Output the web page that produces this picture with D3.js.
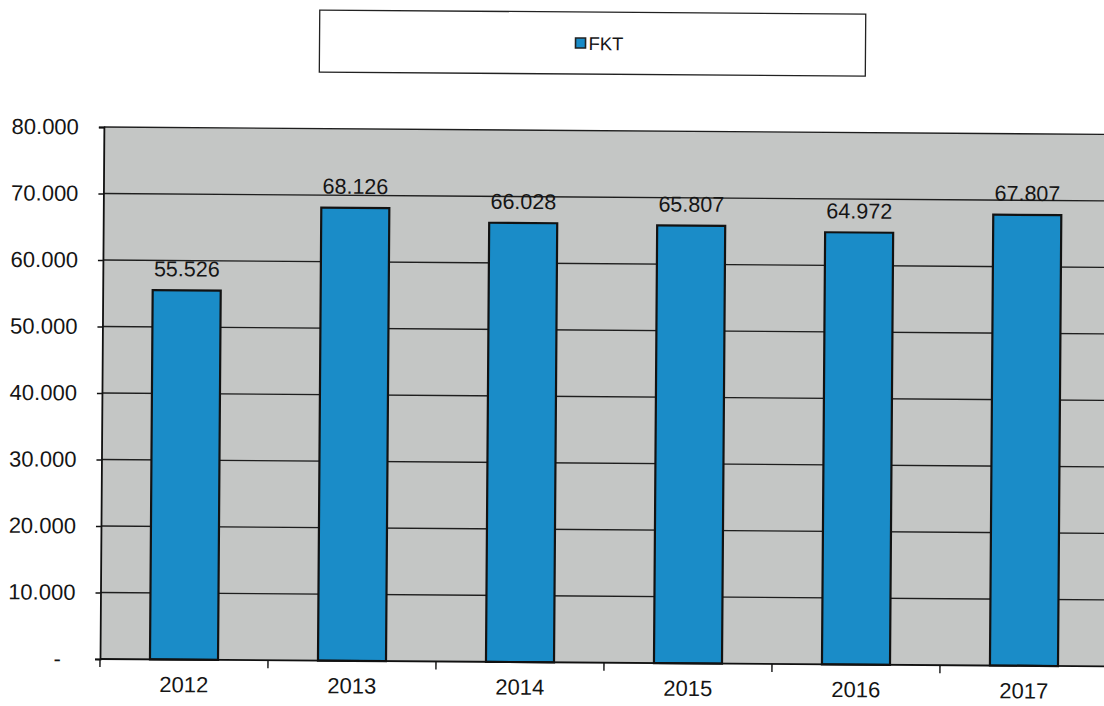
<!DOCTYPE html>
<html>
<head>
<meta charset="utf-8">
<script src="https://cdn.jsdelivr.net/npm/d3@7"></script>
<style>
  html, body { margin: 0; padding: 0; background: #ffffff; }
  svg { display: block; font-family: "Liberation Sans", Arial, sans-serif; }
</style>
</head>
<body>
<svg id="chart" width="1104" height="706"></svg>
<script>
// Yearly FKT totals
const years = ["2012", "2013", "2014", "2015", "2016", "2017"];
const fkt = [55526, 68126, 66028, 65807, 64972, 67807];
const yTicks = [0, 10000, 20000, 30000, 40000, 50000, 60000, 70000, 80000];
const seriesName = "FKT";

const plotL = 100, plotR = 1108, plotT = 127, plotB = 659;

const de = d3.formatLocale({ decimal: ",", thousands: ".", grouping: [3], currency: ["", " €"] });
const fmt = de.format(",d");

const svg = d3.select("#chart");
// whole sheet sits very slightly tilted
const g = svg.append("g").attr("transform", `rotate(0.42, ${plotL}, ${plotB})`);

const x = d3.scaleBand().domain(years).range([plotL, plotR]).paddingInner(0.595).paddingOuter(0.2975);
const y = d3.scaleLinear().domain([0, 80000]).range([plotB, plotT]);

// plot background
g.append("rect")
  .attr("x", plotL).attr("y", plotT)
  .attr("width", plotR - plotL + 10).attr("height", plotB - plotT)
  .attr("fill", "#c4c6c5");

// gridlines
g.append("g").selectAll("line")
  .data(yTicks.filter(d => d > 0))
  .join("line")
  .attr("x1", plotL).attr("x2", plotR + 10)
  .attr("y1", d => y(d)).attr("y2", d => y(d))
  .attr("stroke", "#1e1e1e").attr("stroke-width", 1.4);

// y axis; zero is shown as an accounting dash set in from the right
const yAxis = d3.axisLeft(y).tickValues(yTicks).tickSize(5).tickPadding(20)
  .tickFormat(d => d === 0 ? "-" : fmt(d));
const ya = g.append("g").attr("transform", `translate(${plotL},0)`).call(yAxis);
ya.select(".domain").attr("stroke", "#111").attr("stroke-width", 1.8);
ya.selectAll(".tick line").attr("stroke", "#111").attr("stroke-width", 1.4);
ya.selectAll(".tick text").attr("font-size", 22).attr("fill", "#151515")
  .attr("font-family", "Liberation Sans, Arial, sans-serif")
  .attr("dx", d => d === 0 ? -14 : 0);

// bars
g.append("g").selectAll("rect")
  .data(years.map((c, i) => ({ c, v: fkt[i] })))
  .join("rect")
  .attr("x", d => x(d.c)).attr("width", x.bandwidth())
  .attr("y", d => y(d.v)).attr("height", d => y(0) - y(d.v))
  .attr("fill", "#1a8cc8").attr("stroke", "#121212").attr("stroke-width", 2.2);

// value labels
g.append("g").selectAll("text")
  .data(years.map((c, i) => ({ c, v: fkt[i] })))
  .join("text")
  .attr("x", d => x(d.c) + x.bandwidth() / 2)
  .attr("y", d => y(d.v) - 14)
  .attr("text-anchor", "middle")
  .attr("font-size", 21.5).attr("fill", "#151515")
  .text(d => fmt(d.v));

// x axis
const xAxis = d3.axisBottom(x).tickSize(0).tickPadding(17);
const xa = g.append("g").attr("transform", `translate(0,${plotB})`).call(xAxis);
xa.select(".domain").remove();
xa.selectAll(".tick text").attr("font-size", 22).attr("fill", "#151515")
  .attr("font-family", "Liberation Sans, Arial, sans-serif");
g.append("line").attr("x1", plotL).attr("x2", plotR + 10)
  .attr("y1", plotB).attr("y2", plotB)
  .attr("stroke", "#111").attr("stroke-width", 1.8);
// category separators below the axis
const bounds = years.map(c => x(c) - x.step() * x.paddingInner() / 2).concat([plotR]);
g.append("g").selectAll("line").data(bounds).join("line")
  .attr("x1", d => d).attr("x2", d => d)
  .attr("y1", plotB).attr("y2", plotB + 8)
  .attr("stroke", "#111").attr("stroke-width", 1.4);

// legend
const lg = g.append("g");
lg.append("rect").attr("x", 315).attr("y", 8.5).attr("width", 546).attr("height", 62)
  .attr("fill", "#ffffff").attr("stroke", "#222").attr("stroke-width", 1.3);
lg.append("rect").attr("x", 571).attr("y", 34.5).attr("width", 10).attr("height", 10)
  .attr("fill", "#1a8cc8").attr("stroke", "#222").attr("stroke-width", 1.6);
lg.append("text").attr("x", 584).attr("y", 46.5).attr("font-size", 18.5)
  .attr("fill", "#151515").text(seriesName);
</script>
</body>
</html>
